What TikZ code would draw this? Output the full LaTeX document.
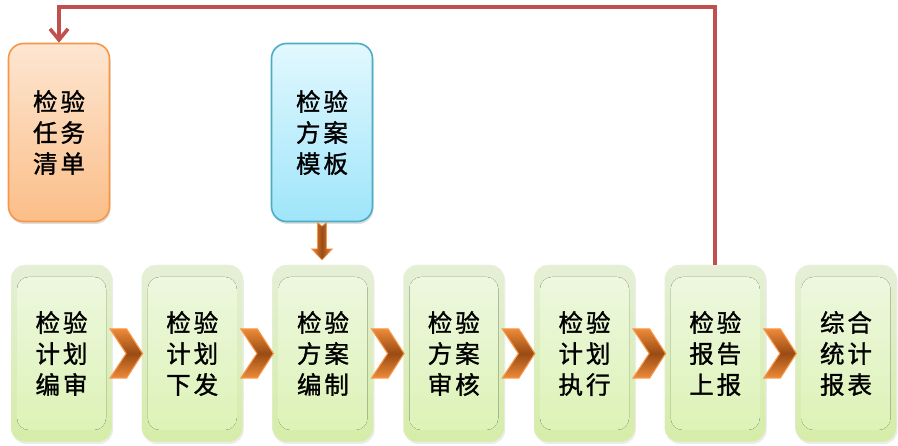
\documentclass[tikz,border=0pt]{standalone}
\usepackage{fontspec}
\newfontfamily\cjk[FakeBold=1.3,LetterSpace=12]{Noto Sans CJK SC}
\usetikzlibrary{arrows.meta,calc,shadows}
\definecolor{grnTop}{HTML}{E5EFD6}
\definecolor{grnBot}{HTML}{D5EDA8}
\definecolor{grnInTop}{HTML}{EEF8E2}
\definecolor{grnInBot}{HTML}{DCF2B3}
\definecolor{orTop}{HTML}{FDE6D2}
\definecolor{orBot}{HTML}{FBBE88}
\definecolor{orLine}{HTML}{F79646}
\definecolor{blTop}{HTML}{E2F8FE}
\definecolor{blBot}{HTML}{9FE5FA}
\definecolor{blLine}{HTML}{4BACC6}
\definecolor{redLine}{HTML}{C0504D}
\definecolor{chevDark}{HTML}{9A4B14}
\definecolor{chevLight}{HTML}{EC8A38}
\tikzset{
  txt/.style={font=\cjk\fontsize{24.5}{31}\selectfont, align=center, text=black},
  gbox/.style={txt, minimum width=101pt, minimum height=177pt, rounded corners=14pt,
    top color=grnTop, bottom color=grnBot, draw=grnTop!90!gray!50, line width=0.3pt,
    drop shadow={opacity=0.15, shadow xshift=1pt, shadow yshift=-2pt},
    path picture={\fill[rounded corners=12pt, top color=grnInTop, bottom color=grnInBot]
      ($(path picture bounding box.north west)+(6,12)$) rectangle
      ($(path picture bounding box.south east)+(-6,-12)$);}},
  obox/.style={txt, minimum width=101pt, minimum height=178pt, rounded corners=15pt,
    top color=orTop, bottom color=orBot, draw=orLine, line width=1.6pt,
    drop shadow={opacity=0.25, shadow xshift=1pt, shadow yshift=-2.5pt}},
  bbox/.style={txt, minimum width=101pt, minimum height=178pt, rounded corners=15pt,
    top color=blTop, bottom color=blBot, draw=blLine, line width=1.6pt,
    drop shadow={opacity=0.25, shadow xshift=1pt, shadow yshift=-2.5pt}},
  chevstyle/.style={top color=chevLight, bottom color=chevLight, middle color=chevDark,
    draw=orLine, line width=1.1pt, line join=miter},
  darrow/.style={left color=chevLight, right color=chevLight, middle color=chevDark,
    draw=orLine, line width=0.6pt},
  redline/.style={draw=redLine, line width=3.6pt,
    -{Straight Barb[length=11pt,width=18pt,line width=3.6pt]}}
}
\newcommand\chevcon[2]{%
  \path[chevstyle] let \p1=(#1.east), \p2=(#2.west) in
    (\x1-2pt,\y1+24.5pt) -- (\x2-15pt,\y1+24.5pt) -- (\x2+1pt,\y1) --
    (\x2-15pt,\y1-24.5pt) -- (\x1-2pt,\y1-24.5pt) -- (\x1+14pt,\y1) -- cycle;}
\begin{document}
\begin{tikzpicture}[x=1pt,y=-1pt]
\useasboundingbox (0,0) rectangle (898,446);
% top boxes
\node[obox] (o) at (59,132.5) {检验\\任务\\清单};
\node[bbox] (b) at (322,132.5) {检验\\方案\\模板};
% process boxes
\node[gbox] (g1) at (61.5,353.5) {检验\\计划\\编审};
\node[gbox] (g2) at (192.25,353.5) {检验\\计划\\下发};
\node[gbox] (g3) at (323,353.5) {检验\\方案\\编制};
\node[gbox] (g4) at (453.75,353.5) {检验\\方案\\审核};
\node[gbox] (g5) at (584.5,353.5) {检验\\计划\\执行};
\node[gbox] (g6) at (715.25,353.5) {检验\\报告\\上报};
\node[gbox] (g7) at (846,353.5) {综合\\统计\\报表};
% chevrons
\chevcon{g1}{g2}
\chevcon{g2}{g3}
\chevcon{g3}{g4}
\chevcon{g4}{g5}
\chevcon{g5}{g6}
\chevcon{g6}{g7}
% down arrow from template to plan compilation
\path[darrow] let \p1=(b.south), \p2=(g3.north) in
  (\x1-4.5pt,\y1) -- (\x1,\y1-4pt) -- (\x1+4.5pt,\y1) -- (\x1+4.5pt,\y2+16pt) --
  (\x1+10.5pt,\y2+16pt) -- (\x1,\y2+5pt) -- (\x1-10.5pt,\y2+16pt) --
  (\x1-4.5pt,\y2+16pt) -- cycle;
% feedback line
\coordinate (topy) at (0,7);
\draw[redline] (g6.north) -- (g6.north |- topy) -| (o.north);
\end{tikzpicture}
\end{document}
